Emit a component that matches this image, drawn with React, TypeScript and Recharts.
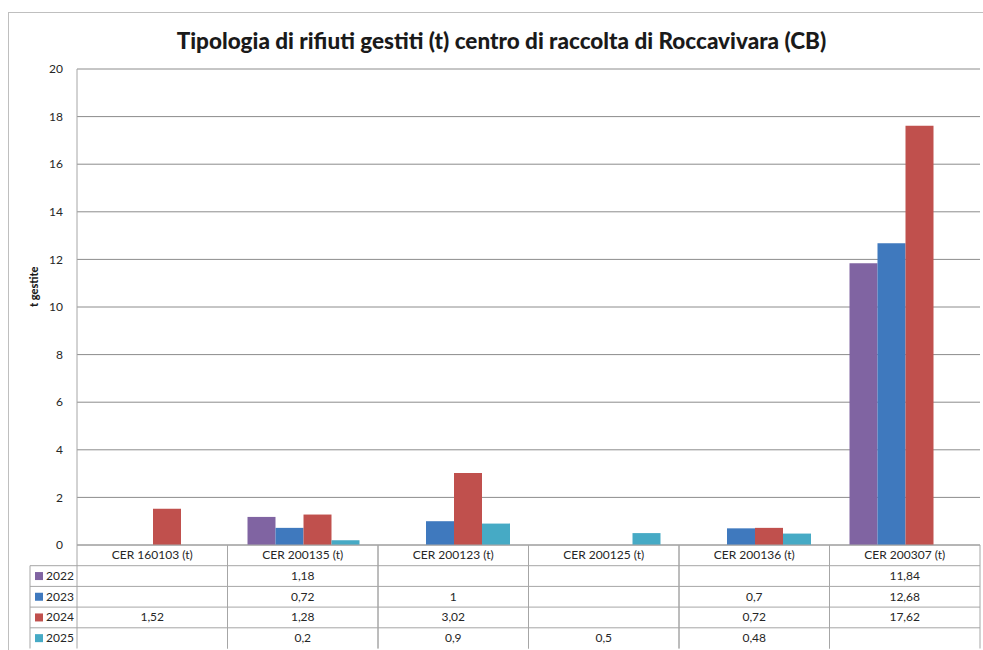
import { Bar, BarChart, CartesianGrid, XAxis, YAxis, Label } from "recharts";

const categories = [
  "CER 160103 (t)",
  "CER 200135 (t)",
  "CER 200123 (t)",
  "CER 200125 (t)",
  "CER 200136 (t)",
  "CER 200307 (t)",
];
const years = ["2022", "2023", "2024", "2025"];
const v2022 = [null, 1.18, null, null, null, 11.84];
const v2023 = [null, 0.72, 1, null, 0.7, 12.68];
const v2024 = [1.52, 1.28, 3.02, null, 0.72, 17.62];
const v2025 = [null, 0.2, 0.9, 0.5, 0.48, null];
const yTicks = [0, 2, 4, 6, 8, 10, 12, 14, 16, 18, 20];

const COLORS: Record<string, string> = {
  "2022": "#8064A2",
  "2023": "#3F79BE",
  "2024": "#C0504D",
  "2025": "#46AAC5",
};

const series = [v2022, v2023, v2024, v2025];
const data = categories.map((c, i) => {
  const row: Record<string, string | number | null> = { name: c };
  years.forEach((y, k) => {
    row[y] = series[k][i];
  });
  return row;
});

const FONT = "Lato, 'Open Sans', sans-serif";
const W = 983;
const H = 650;
const M = { top: 69, right: 3, left: 8, bottom: 0 };
const Y_W = 69;
const PLOT_W = W - M.right - M.left - Y_W;
const BAND = PLOT_W / categories.length;
const ROW_H = 20.7;
const LEG_W = 47;
const GRID = "#8c8c8c";
const LINE = "#a6a6a6";

const fmt = (v: number | null | undefined) =>
  v == null ? "" : String(v).replace(".", ",");

function TableTick(props: any) {
  const { x, y, payload } = props;
  const i = payload.index as number;
  const left = x - BAND / 2;
  const right = x + BAND / 2;
  const bottom = y + ROW_H * 5;
  return (
    <g>
      <line x1={left} x2={left} y1={y} y2={bottom} stroke={LINE} />
      <line x1={right} x2={right} y1={y} y2={bottom} stroke={LINE} />
      {years.map((_, r) => (
        <line
          key={r}
          x1={left}
          x2={right}
          y1={y + ROW_H * (r + 1)}
          y2={y + ROW_H * (r + 1)}
          stroke={LINE}
        />
      ))}
      <text
        x={x}
        y={y + ROW_H / 2 + 4}
        textAnchor="middle"
        fontSize={12}
        fill="#262626"
        fontFamily={FONT}
      >
        {payload.value}
      </text>
      {years.map((yr, r) => (
        <text
          key={yr}
          x={x}
          y={y + ROW_H * (r + 1.5) + 4}
          textAnchor="middle"
          fontSize={12}
          fill="#262626"
          fontFamily={FONT}
        >
          {fmt(data[i][yr] as number | null)}
        </text>
      ))}
      {i === 0 && (
        <g>
          <line x1={left - LEG_W} x2={left - LEG_W} y1={y + ROW_H} y2={bottom} stroke={LINE} />
          {years.map((yr, r) => (
            <g key={yr}>
              <line
                x1={left - LEG_W}
                x2={left}
                y1={y + ROW_H * (r + 1)}
                y2={y + ROW_H * (r + 1)}
                stroke={LINE}
              />
              <rect
                x={left - LEG_W + 5}
                y={y + ROW_H * (r + 1.5) - 4}
                width={8}
                height={8}
                fill={COLORS[yr]}
              />
              <text
                x={left - LEG_W + 16}
                y={y + ROW_H * (r + 1.5) + 4}
                fontSize={12}
                fill="#262626"
                fontFamily={FONT}
              >
                {yr}
              </text>
            </g>
          ))}
        </g>
      )}
    </g>
  );
}

export default function App() {
  return (
    <div
      style={{
        position: "relative",
        width: W,
        height: H,
        overflow: "hidden",
        fontFamily: FONT,
        background: "#fff",
      }}
    >
      <style>{"html,body{margin:0;padding:0;overflow:hidden}"}</style>
      <div
        style={{
          position: "absolute",
          left: 8,
          top: 12,
          width: W - 8,
          height: H - 12,
          borderTop: "1px solid #bfbfbf",
          borderLeft: "1px solid #bfbfbf",
          boxSizing: "border-box",
        }}
      />
      <div
        style={{
          position: "absolute",
          left: 20,
          top: 27,
          width: W - 20,
          textAlign: "center",
          fontSize: 22.5,
          fontWeight: 900,
          color: "#1a1a1a",
          whiteSpace: "nowrap",
        }}
      >
        Tipologia di rifiuti gestiti (t) centro di raccolta di Roccavivara (CB)
      </div>
      <div style={{ position: "absolute", left: 0, top: 0 }}>
        <BarChart
          width={W}
          height={H}
          data={data}
          margin={M}
          barCategoryGap={20}
          barGap={0}
        >
          <CartesianGrid vertical={false} stroke={GRID} />
          <XAxis
            dataKey="name"
            height={H - M.top - 476}
            tickLine={false}
            tickSize={0}
            tickMargin={0}
            axisLine={{ stroke: LINE }}
            tick={<TableTick />}
            interval={0}
          />
          <YAxis
            width={Y_W}
            domain={[0, 20]}
            ticks={yTicks}
            tickLine={false}
            axisLine={{ stroke: LINE }}
            tick={{ fontSize: 12, fill: "#262626", fontFamily: FONT }}
            tickMargin={8}
          >
            <Label
              value="t gestite"
              angle={-90}
              position="insideLeft"
              offset={26}
              style={{ fontSize: 11, fontWeight: 900, fill: "#1a1a1a", fontFamily: FONT }}
            />
          </YAxis>
          {years.map((yr) => (
            <Bar key={yr} dataKey={yr} fill={COLORS[yr]} isAnimationActive={false} />
          ))}
        </BarChart>
      </div>
    </div>
  );
}
